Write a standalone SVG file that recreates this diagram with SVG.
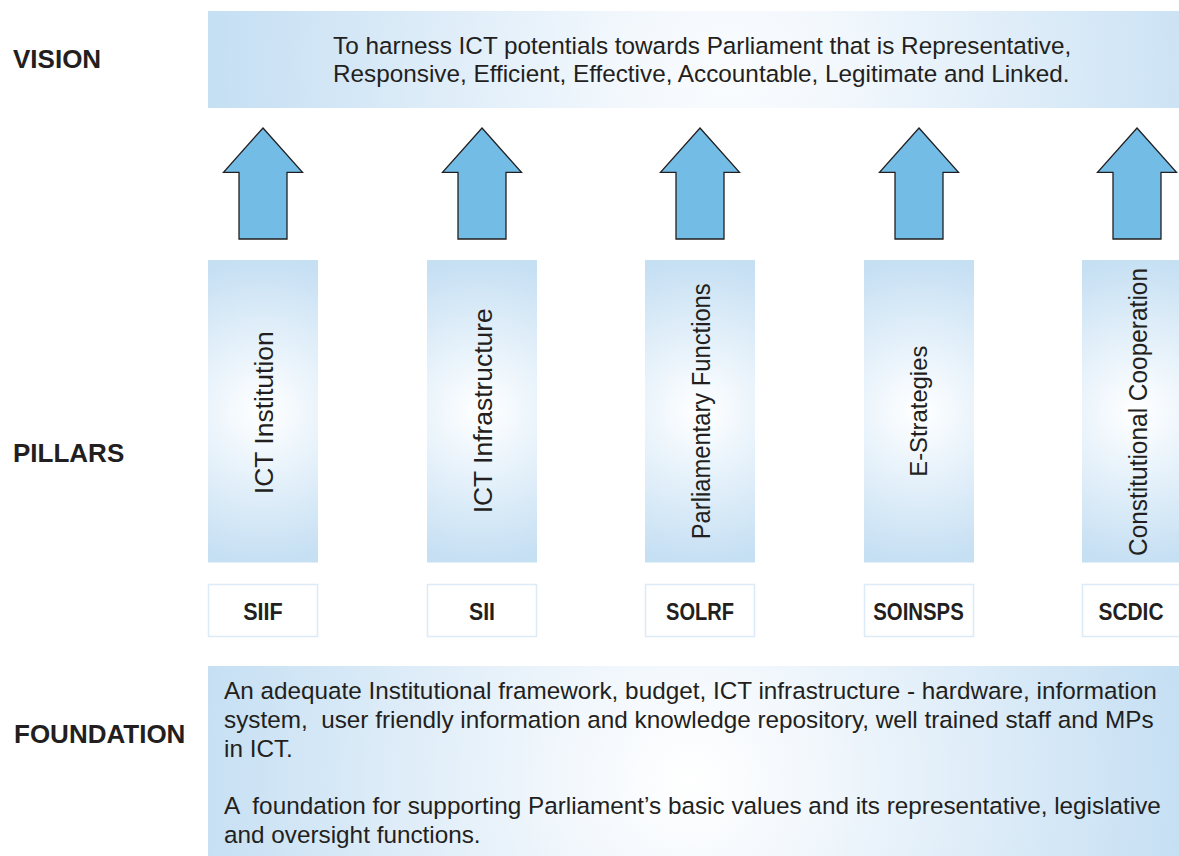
<svg xmlns="http://www.w3.org/2000/svg" width="1179" height="856" viewBox="0 0 1179 856">
<defs>
<radialGradient id="gPillar" gradientUnits="userSpaceOnUse" cx="55" cy="151" r="153">
<stop offset="0" stop-color="#ffffff"/>
<stop offset="0.15" stop-color="#f7fbfe"/>
<stop offset="1" stop-color="#c5dff3"/>
</radialGradient>
<radialGradient id="gVision" gradientUnits="userSpaceOnUse" cx="730" cy="70" r="520">
<stop offset="0" stop-color="#fafcfe"/>
<stop offset="0.2" stop-color="#f3f8fd"/>
<stop offset="1" stop-color="#c5dff3"/>
</radialGradient>
<radialGradient id="gFound" gradientUnits="userSpaceOnUse" cx="690" cy="780" r="500">
<stop offset="0" stop-color="#ffffff"/>
<stop offset="0.2" stop-color="#f5f9fd"/>
<stop offset="1" stop-color="#c5dff3"/>
</radialGradient>
</defs>
<style>
.lbl{font-family:"Liberation Sans",Arial,Helvetica,sans-serif;font-weight:bold;font-size:26px;fill:#231f20}
.body{font-family:"Liberation Sans",Arial,Helvetica,sans-serif;font-size:24.3px;fill:#231f20;white-space:pre}
.pt{font-family:"Liberation Sans",Arial,Helvetica,sans-serif;fill:#231f20;text-anchor:middle}
.code{font-family:"Liberation Sans",Arial,Helvetica,sans-serif;font-weight:bold;font-size:24.5px;fill:#231f20;text-anchor:middle}
.pillar{fill:url(#gPillar)}
.cbox{fill:#ffffff;stroke:#dcebf7;stroke-width:1.5}
.arrow{fill:#73bce6;stroke:#231f20;stroke-width:1.3;stroke-linejoin:miter}
</style>
<rect width="1179" height="856" fill="#ffffff"/>

<g id="labels">
<text class="lbl" x="13" y="68">VISION</text>
<text class="lbl" x="13" y="462">PILLARS</text>
<text class="lbl" x="14" y="743">FOUNDATION</text>
</g>

<g id="vision">
<rect x="208" y="11" width="971" height="97" fill="url(#gVision)"/>
<text class="body" x="333" y="53.5">To harness ICT potentials towards Parliament that is Representative,</text>
<text class="body" x="333" y="82">Responsive, Efficient, Effective, Accountable, Legitimate and Linked.</text>
</g>

<g id="connectors">
<path class="arrow" d="M263,128 L302.5,172.3 L287,172.3 L287,239 L239,239 L239,172.3 L223.5,172.3 Z"/>
<path class="arrow" d="M482,128 L521.5,172.3 L506,172.3 L506,239 L458,239 L458,172.3 L442.5,172.3 Z"/>
<path class="arrow" d="M700,128 L739.5,172.3 L724,172.3 L724,239 L676,239 L676,172.3 L660.5,172.3 Z"/>
<path class="arrow" d="M919,128 L958.5,172.3 L943,172.3 L943,239 L895,239 L895,172.3 L879.5,172.3 Z"/>
<path class="arrow" d="M1137,128 L1176.5,172.3 L1161,172.3 L1161,239 L1113,239 L1113,172.3 L1097.5,172.3 Z"/>
</g>

<g id="pillar-ict-institution" transform="translate(208,260)">
<rect class="pillar" x="0" y="0" width="110" height="302.5"/>
<text class="pt" font-size="26.5" textLength="163" lengthAdjust="spacingAndGlyphs" transform="translate(64.7,152.7) rotate(-90)">ICT Institution</text>
</g>
<g id="pillar-ict-infrastructure" transform="translate(427,260)">
<rect class="pillar" x="0" y="0" width="110" height="302.5"/>
<text class="pt" font-size="26.5" textLength="205" lengthAdjust="spacingAndGlyphs" transform="translate(65.3,150.8) rotate(-90)">ICT Infrastructure</text>
</g>
<g id="pillar-parliamentary-functions" transform="translate(645,260)">
<rect class="pillar" x="0" y="0" width="110" height="302.5"/>
<text class="pt" font-size="25" textLength="256" lengthAdjust="spacingAndGlyphs" transform="translate(65,151.3) rotate(-90)">Parliamentary Functions</text>
</g>
<g id="pillar-e-strategies" transform="translate(864,260)">
<rect class="pillar" x="0" y="0" width="110" height="302.5"/>
<text class="pt" font-size="24" textLength="131" lengthAdjust="spacingAndGlyphs" transform="translate(63.2,151.2) rotate(-90)">E-Strategies</text>
</g>
<g id="pillar-constitutional-cooperation" transform="translate(1082,260)">
<rect class="pillar" x="0" y="0" width="110" height="302.5"/>
<text class="pt" font-size="25" textLength="288" lengthAdjust="spacingAndGlyphs" transform="translate(64.5,152) rotate(-90)">Constitutional Cooperation</text>
</g>

<g id="code-siif">
<rect class="cbox" x="208.5" y="584.5" width="109" height="52"/>
<text class="code" x="263" y="619.5" textLength="39.5" lengthAdjust="spacingAndGlyphs">SIIF</text>
</g>
<g id="code-sii">
<rect class="cbox" x="427.5" y="584.5" width="109" height="52"/>
<text class="code" x="482" y="619.5" textLength="26" lengthAdjust="spacingAndGlyphs">SII</text>
</g>
<g id="code-solrf">
<rect class="cbox" x="645.5" y="584.5" width="109" height="52"/>
<text class="code" x="700" y="619.5" textLength="68" lengthAdjust="spacingAndGlyphs">SOLRF</text>
</g>
<g id="code-soinsps">
<rect class="cbox" x="864.5" y="584.5" width="109" height="52"/>
<text class="code" x="918.5" y="619.5" textLength="90.5" lengthAdjust="spacingAndGlyphs">SOINSPS</text>
</g>
<g id="code-scdic">
<rect class="cbox" x="1082.5" y="584.5" width="109" height="52"/>
<text class="code" x="1131" y="619.5" textLength="65" lengthAdjust="spacingAndGlyphs">SCDIC</text>
</g>

<g id="foundation">
<rect x="208" y="666" width="971" height="190" fill="url(#gFound)"/>
<text class="body" x="224" y="699">An adequate Institutional framework, budget, ICT infrastructure - hardware, information</text>
<text class="body" x="224" y="728">system,  user friendly information and knowledge repository, well trained staff and MPs</text>
<text class="body" x="224" y="757">in ICT.</text>
<text class="body" x="224" y="814">A  foundation for supporting Parliament’s basic values and its representative, legislative</text>
<text class="body" x="224" y="843">and oversight functions.</text>
</g>
</svg>
